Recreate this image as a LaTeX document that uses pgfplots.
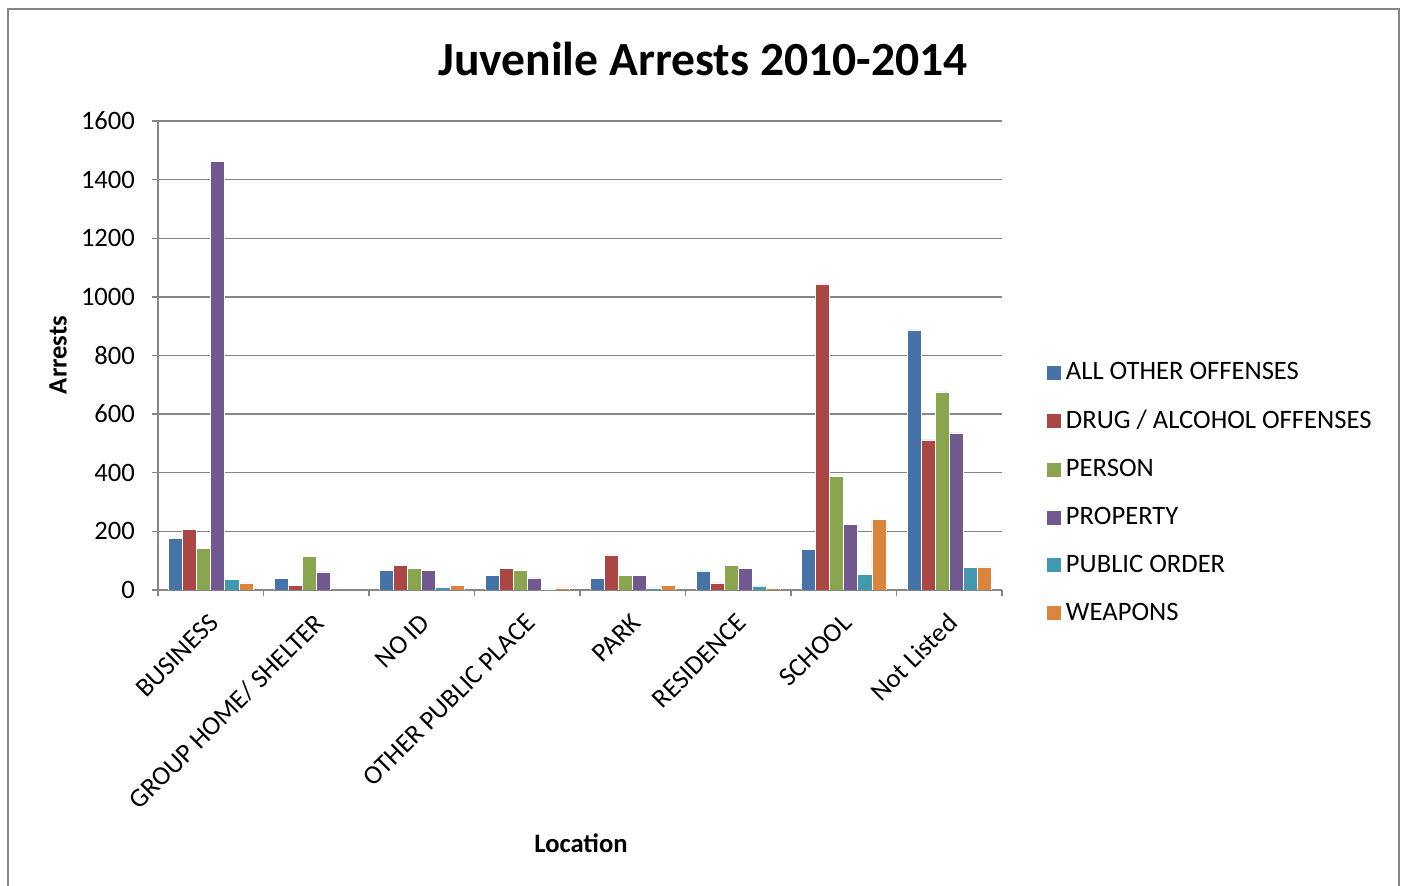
\documentclass[border=0pt]{standalone}
\usepackage{pgfplots}
\pgfplotsset{compat=1.18}
\usepackage{fontspec}
\setmainfont{Carlito}
\definecolor{c1}{HTML}{4572A7}
\definecolor{c2}{HTML}{AA4643}
\definecolor{c3}{HTML}{89A54E}
\definecolor{c4}{HTML}{71588F}
\definecolor{c5}{HTML}{4198AF}
\definecolor{c6}{HTML}{DB843D}
\definecolor{gridgray}{HTML}{868686}
\begin{document}
\begin{tikzpicture}
\useasboundingbox (0,0) rectangle (701.5pt,443pt);
\draw[gridgray, line width=1pt] (4pt,-5pt) -- (4pt,438.5pt) -- (699.5pt,438.5pt) -- (699.5pt,-5pt);
\node[font=\fontsize{23.8}{28}\selectfont\bfseries, anchor=base] at (351.5pt,405pt) {Juvenile Arrests 2010-2014};
\node[font=\fontsize{13.3}{15}\selectfont\bfseries, rotate=90] at (29pt,265.5pt) {Arrests};
\node[font=\fontsize{13.3}{15}\selectfont\bfseries] at (290.5pt,21.5pt) {Location};
\begin{axis}[
  at={(79pt,148pt)}, anchor=south west,
  scale only axis, width=422pt, height=234.5pt,
  ybar=0pt, bar width=0.133,
  xmin=-0.5, xmax=7.5, ymin=0, ymax=1600,
  ytick={0,200,...,1600},
  xtick={0,...,7},
  xticklabels={BUSINESS,GROUP HOME/ SHELTER,NO ID,OTHER PUBLIC PLACE,PARK,RESIDENCE,SCHOOL,Not Listed},
  minor xtick={-0.5,0.5,...,7.5},
  axis x line=bottom, axis y line=left,
  axis line style={gridgray, line width=0.7pt, -},
  ymajorgrids, grid style={gridgray, line width=0.7pt},
  tick align=outside,
  major x tick style={draw=none},
  minor x tick style={gridgray, line width=0.7pt},
  major y tick style={gridgray, line width=0.7pt},
  major tick length=3pt, minor tick length=3pt,
  /pgf/number format/assume math mode=true,
  /pgf/number format/1000 sep={},
  ticklabel style={font=\fontsize{13.3}{15}\selectfont},
  xticklabel style={rotate=45, anchor=east, xshift=-3.3pt, yshift=-9.2pt},
  yticklabel style={xshift=-5pt},
  legend style={at={(1.045,0.503)}, anchor=north west, draw=none, fill=none,
    font=\fontsize{13.3}{15}\selectfont, row sep=9.8pt,
    legend cell align=left},
  legend image code/.code={\fill[#1] (0pt,-3.75pt) rectangle (7.5pt,3.75pt);},
]
\addplot[fill=c1, draw=white, line width=0.3pt] coordinates {(0,177) (1,40) (2,67) (3,51) (4,39) (5,65) (6,138) (7,887)};
\addplot[fill=c2, draw=white, line width=0.3pt] coordinates {(0,206) (1,17) (2,84) (3,75) (4,120) (5,24) (6,1044) (7,512)};
\addplot[fill=c3, draw=white, line width=0.3pt] coordinates {(0,142) (1,114) (2,73) (3,68) (4,51) (5,85) (6,389) (7,676)};
\addplot[fill=c4, draw=white, line width=0.3pt] coordinates {(0,1462) (1,62) (2,66) (3,41) (4,51) (5,75) (6,225) (7,536)};
\addplot[fill=c5, draw=white, line width=0.3pt] coordinates {(0,36) (1,0) (2,9) (3,4) (4,7) (5,14) (6,52) (7,78)};
\addplot[fill=c6, draw=white, line width=0.3pt] coordinates {(0,24) (1,0) (2,15) (3,7) (4,15) (5,5) (6,242) (7,79)};
\legend{ALL OTHER OFFENSES,DRUG / ALCOHOL OFFENSES,PERSON,PROPERTY,PUBLIC ORDER,WEAPONS}
\end{axis}
\end{tikzpicture}
\end{document}
